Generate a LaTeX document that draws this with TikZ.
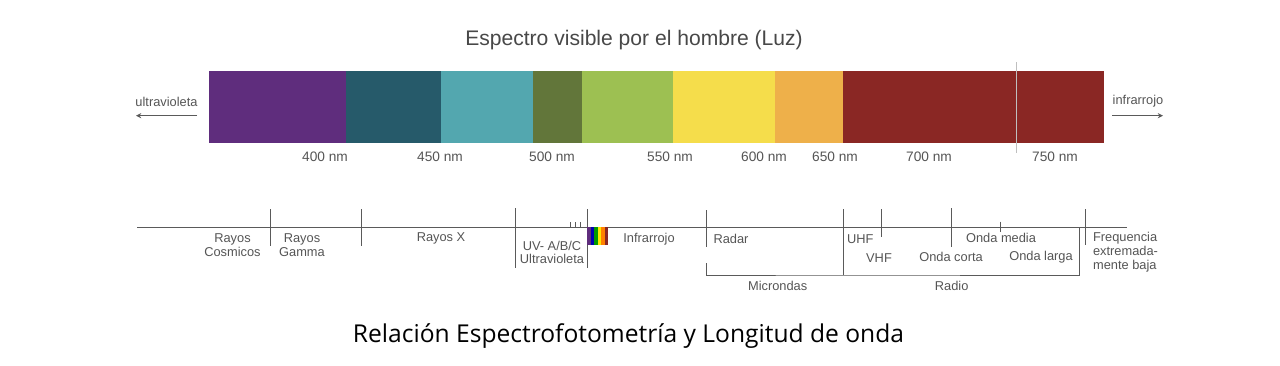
\documentclass[tikz,border=0pt]{standalone}
\usepackage{fontspec}
\setmainfont{Liberation Sans}
\newfontfamily\capfont{Open Sans}
\usetikzlibrary{arrows.meta}
\definecolor{cpurple}{HTML}{5F2D7D}
\definecolor{cdteal}{HTML}{265A6A}
\definecolor{cteal}{HTML}{53A7AF}
\definecolor{colive}{HTML}{62763A}
\definecolor{cgreen}{HTML}{9DC052}
\definecolor{cyellow}{HTML}{F5DD4B}
\definecolor{corange}{HTML}{EEB04A}
\definecolor{cred}{HTML}{8A2724}
\definecolor{ctext}{HTML}{555555}
\definecolor{cline}{HTML}{5A5A5A}
\begin{document}
\begin{tikzpicture}[x=0.02cm,y=-0.02cm,
  lbl/.style={text=ctext,font=\fontsize{7.3pt}{7.9pt}\selectfont,inner sep=0pt,align=center},
  nmlbl/.style={text=ctext,font=\fontsize{7.8pt}{8pt}\selectfont,inner sep=0pt},
  axis/.style={draw=cline,line width=0.55pt},
  tick/.style={draw=cline,line width=0.55pt}]
\useasboundingbox (0,0) rectangle (1280,365);
\fill[white] (0,0) rectangle (1280,365);
% title
\node[text=ctext!85!black,font=\fontsize{12pt}{13pt}\selectfont,inner sep=0pt] (title) at (634,40) {Espectro visible por el hombre (Luz)};
% colour bar
\fill[cpurple] (209,71) rectangle (346,143);
\fill[cdteal] (346,71) rectangle (441,143);
\fill[cteal] (441,71) rectangle (533,143);
\fill[colive] (533,71) rectangle (582,143);
\fill[cgreen] (582,71) rectangle (673,143);
\fill[cyellow] (673,71) rectangle (775,143);
\fill[corange] (775,71) rectangle (843,143);
\fill[cred] (843,71) rectangle (1104,143);
\draw[black!25,line width=0.5pt] (1016,62) -- (1016,153);
% nm labels
\node[nmlbl] (n400) at (325,157) {400 nm};
\node[nmlbl] (n450) at (440,157) {450 nm};
\node[nmlbl] (n500) at (552,157) {500 nm};
\node[nmlbl] (n550) at (670,157) {550 nm};
\node[nmlbl] (n600) at (764,157) {600 nm};
\node[nmlbl] (n650) at (835,157) {650 nm};
\node[nmlbl] (n700) at (929,157) {700 nm};
\node[nmlbl] (n750) at (1055,157) {750 nm};
% side labels
\node[lbl] (uv) at (166.5,101.5) {ultravioleta};
\coordinate (uvA) at (197,115.7);
\coordinate (uvB) at (136,115.7);
\draw[cline,line width=0.6pt,-{Stealth[length=3pt,width=3pt]}] (uvA) -- (uvB);
\node[lbl] (ir) at (1138,101.5) {infrarrojo};
\coordinate (irA) at (1112,115.7);
\coordinate (irB) at (1163,115.7);
\draw[cline,line width=0.6pt,-{Stealth[length=3pt,width=3pt]}] (irA) -- (irB);
% bottom axis
\coordinate (axL) at (137,227.3);
\coordinate (axR) at (1127,227.3);
\draw[axis] (axL) -- (axR);
\draw[tick] (270,209) -- (270,246);
\draw[tick] (361.7,209) -- (361.7,246);
\draw[tick] (515.5,208) -- (515.5,268);
\draw[tick] (570,222) -- (570,227.3);
\draw[tick] (575,222) -- (575,227.3);
\draw[tick] (580,222) -- (580,227.3);
\draw[tick] (587.3,209) -- (587.3,268);
\draw[tick] (706.7,210) -- (706.7,246.7);
\draw[tick] (843.3,209) -- (843.3,275);
\draw[tick] (881,209) -- (881,237);
\draw[tick] (951,208.3) -- (951,246.7);
\draw[tick] (1000.7,221.7) -- (1000.7,231.7);
\draw[tick] (1085.7,209) -- (1085.7,245);
% brackets
\draw[tick] (706.7,263.3) -- (706.7,275) -- (843.3,275) -- (1079.3,275) -- (1079.3,227.3);
% rainbow block
\fill[cpurple] (587.3,227.3) rectangle (590.8,244.5);
\fill[blue!70!black] (590.8,227.3) rectangle (594.3,244.5);
\fill[green!60!black] (594.3,227.3) rectangle (597.8,244.5);
\fill[yellow!90!orange] (597.8,227.3) rectangle (601.3,244.5);
\fill[orange] (601.3,227.3) rectangle (604.8,244.5);
\fill[cred] (604.8,227.3) rectangle (608.3,244.5);
% axis labels
\node[lbl] (cos) at (232.5,245.3) {Rayos\\Cosmicos};
\node[lbl] (gam) at (302,245.3) {Rayos\\Gamma};
\node[lbl] (rx) at (441,238.3) {Rayos X};
\node[lbl] (uvb) at (552,252) {UV- A/B/C\\[-0.6pt]Ultravioleta};
\node[lbl] (inf) at (649,239.3) {Infrarrojo};
\node[lbl] (rad) at (731,239.3) {Radar};
\node[lbl] (mic) at (777.7,285.7) {Microndas};
\node[lbl] (uhf) at (860.3,239.3) {UHF};
\node[lbl] (vhf) at (879,258) {VHF};
\node[lbl] (om) at (1001,238.3) {Onda media};
\node[lbl] (oc) at (951,257.3) {Onda corta};
\node[lbl] (ol) at (1041,257.3) {Onda larga};
\node[lbl] (radio) at (951.7,285.7) {Radio};
\node[lbl,anchor=west,align=left] (feb) at (1092.7,252.3) {Frequencia\\extremada-\\mente baja};
% caption
\node[text=black,font=\capfont\fontsize{14pt}{15pt}\selectfont,inner sep=0pt] (cap) at (628.5,336) {Relación Espectrofotometría y Longitud de onda};
\end{tikzpicture}
\end{document}
